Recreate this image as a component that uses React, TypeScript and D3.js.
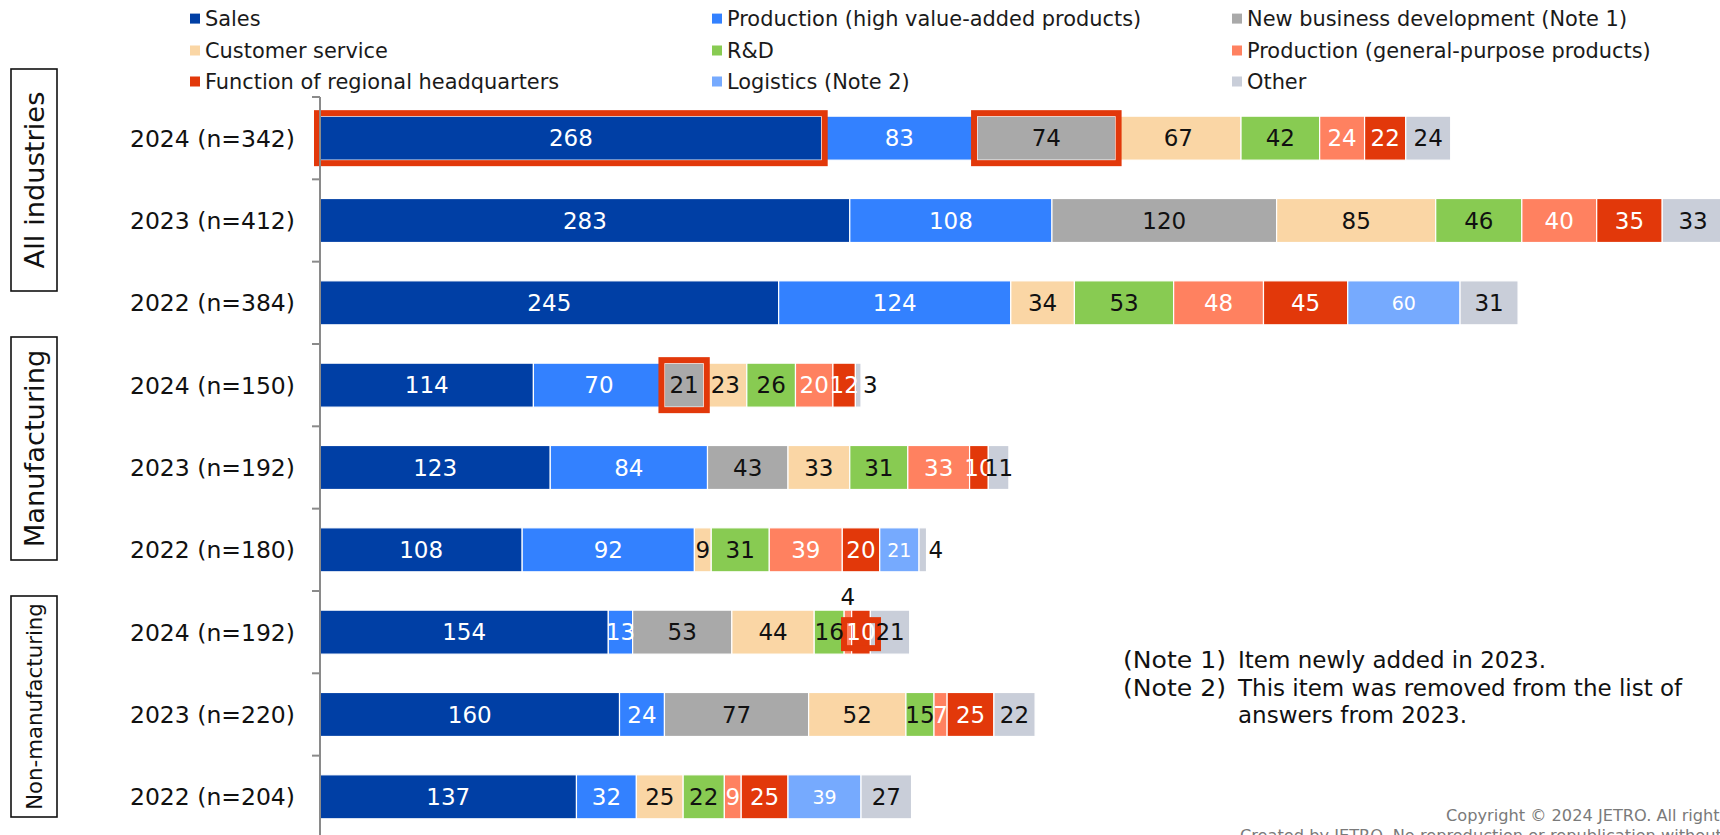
import React from 'react';
import * as d3 from 'd3';

// ---------- data ----------
const rowLabels = [
  '2024 (n=342)', '2023 (n=412)', '2022 (n=384)',
  '2024 (n=150)', '2023 (n=192)', '2022 (n=180)',
  '2024 (n=192)', '2023 (n=220)', '2022 (n=204)',
];
const groupLabels = ['All industries', 'Manufacturing', 'Non-manufacturing'];
const seriesNames = [
  'Sales',
  'Production (high value-added products)',
  'New business development (Note 1)',
  'Customer service',
  'R&D',
  'Production (general-purpose products)',
  'Function of regional headquarters',
  'Logistics (Note 2)',
  'Other',
];
const seriesColors = ['#003fa5', '#3381ff', '#a9a9a9', '#fad6a5', '#88cb52', '#ff8160', '#e2380a', '#76aafe', '#c9ced9'];
const labelColors = ['#ffffff', '#ffffff', '#111111', '#111111', '#111111', '#ffffff', '#ffffff', '#ffffff', '#111111'];

const sales = [268, 283, 245, 114, 123, 108, 154, 160, 137];
const prodHigh = [83, 108, 124, 70, 84, 92, 13, 24, 32];
const newBiz = [74, 120, 0, 21, 43, 0, 53, 77, 0];
const custService = [67, 85, 34, 23, 33, 9, 44, 52, 25];
const rnd = [42, 46, 53, 26, 31, 31, 16, 15, 22];
const prodGeneral = [24, 40, 48, 20, 33, 39, 4, 7, 9];
const regionalHQ = [22, 35, 45, 12, 10, 20, 10, 25, 25];
const logistics = [0, 0, 60, 0, 0, 21, 0, 0, 39];
const other = [24, 33, 31, 3, 11, 4, 21, 22, 27];

const seriesValues = [sales, prodHigh, newBiz, custService, rnd, prodGeneral, regionalHQ, logistics, other];

// highlighted cells: [row, series]
const highlights: [number, number][] = [[0, 0], [0, 2], [3, 2], [6, 6]];

const noteLabels = ['(Note 1)', '(Note 2)'];
const noteTexts = [['Item newly added in 2023.'], ['This item was removed from the list of', 'answers from 2023.']];
const copyrightLines = [
  'Copyright © 2024 JETRO. All rights reserved.',
  'Created by JETRO. No reproduction or republication without written permission.',
];

// ---------- layout ----------
const W = 1720;
const H = 835;
const FONT = "'DejaVu Sans', Verdana, sans-serif";
const axisX = 320;
const unitPx = 1.872;
const yTop = 97;
const step = 82.33;
const barH = 44;

const groupBoxes = [
  { y0: 69, y1: 291, size: 27.3 },
  { y0: 337, y1: 560, size: 27.3 },
  { y0: 596, y1: 817, size: 21.3 },
];

export default function App() {
  const keys = seriesNames.map((_, i) => `s${i}`);
  const table = rowLabels.map((r, ri) => {
    const o: any = { row: r };
    keys.forEach((k, si) => { o[k] = seriesValues[si][ri]; });
    return o;
  });
  const stacked = d3.stack().keys(keys)(table as any);

  const x = d3.scaleLinear().domain([0, 800]).range([axisX, axisX + 800 * unitPx]);
  const y = d3.scaleBand<string>().domain(rowLabels).range([yTop, yTop + step * rowLabels.length]).padding(0);
  const bw = y.bandwidth();
  const barY = (r: string) => (y(r) as number) + (bw - barH) / 2;

  const tickYs = d3.range(rowLabels.length + 1).map((i) => yTop + i * bw);

  const legendCols = [190, 712, 1232];
  const legendRows = [18.6, 50.5, 81.5];

  const valueFont = 23;

  return (
    <svg width={W} height={H} style={{ position: 'absolute', left: 0, top: 0, overflow: 'hidden', background: '#fff' }} fontFamily={FONT}>
      <rect x={0} y={0} width={W} height={H} fill="#fff" />
      {/* legend */}
      {seriesNames.map((name, i) => {
        const cx = legendCols[i % 3];
        const cy = legendRows[Math.floor(i / 3)];
        return (
          <g key={name}>
            <rect x={cx} y={cy - 5} width={10} height={10} fill={seriesColors[i]} />
            <text x={cx + 15} y={cy} dy="0.36em" fontSize={20.9} fill="#1a1a1a">{name}</text>
          </g>
        );
      })}

      {/* bars */}
      {stacked.map((s, si) => (
        <g key={s.key}>
          {s.map((d, ri) => {
            const v = d[1] - d[0];
            if (v <= 0) return null;
            const r = rowLabels[ri];
            return (
              <rect key={ri} x={x(d[0])} y={barY(r)} width={x(d[1]) - x(d[0])} height={barH}
                fill={seriesColors[si]} stroke="#ffffff" strokeWidth={1.2} />
            );
          })}
        </g>
      ))}

      {/* highlight boxes */}
      {highlights.map(([ri, si], i) => {
        const d = stacked[si][ri];
        const r = rowLabels[ri];
        const x0 = x(d[0]);
        const x1 = x(d[1]);
        const w = x1 - x0;
        const minW = 34;
        const pad = 3;
        if (w < minW) {
          const cx = (x0 + x1) / 2;
          return <rect key={i} x={cx - minW / 2} y={barY(r) + 10} width={minW} height={barH - 16}
            fill="none" stroke="#e2380a" strokeWidth={6} />;
        }
        return <rect key={i} x={x0 - pad} y={barY(r) - pad} width={w + pad * 2} height={barH + pad * 2}
          fill="none" stroke="#e2380a" strokeWidth={6} />;
      })}

      {/* value labels */}
      {stacked.map((s, si) => (
        <g key={`l${s.key}`}>
          {s.map((d, ri) => {
            const v = d[1] - d[0];
            if (v <= 0) return null;
            const r = rowLabels[ri];
            const x0 = x(d[0]);
            const x1 = x(d[1]);
            const w = x1 - x0;
            const cy = barY(r) + barH / 2;
            const fs = si === 7 ? 19 : valueFont;
            const isLast = si === seriesNames.length - 1;
            if (w < 10 && isLast) {
              return <text key={ri} x={x1 + 2} y={cy} dy="0.36em" fontSize={fs} fill="#111">{v}</text>;
            }
            if (w < 10) {
              return <text key={ri} x={(x0 + x1) / 2} y={barY(r) - 5} textAnchor="middle" fontSize={fs} fill="#111">{v}</text>;
            }
            return (
              <text key={ri} x={(x0 + x1) / 2} y={cy} dy="0.36em" textAnchor="middle" fontSize={fs}
                fill={labelColors[si]}>{v}</text>
            );
          })}
        </g>
      ))}

      {/* axis */}
      <line x1={axisX} x2={axisX} y1={yTop} y2={H + 5} stroke="#8a8a8a" strokeWidth={2} />
      {tickYs.map((ty, i) => (
        <line key={i} x1={axisX - 8} x2={axisX} y1={ty} y2={ty} stroke="#8a8a8a" strokeWidth={2} />
      ))}

      {/* row labels */}
      {rowLabels.map((r) => (
        <text key={r} x={295} y={(y(r) as number) + bw / 2} dy="0.36em" textAnchor="end" fontSize={23.5} fill="#111">{r}</text>
      ))}

      {/* group boxes */}
      {groupLabels.map((g, i) => {
        const b = groupBoxes[i];
        const cx = 34;
        const cy = (b.y0 + b.y1) / 2;
        return (
          <g key={g}>
            <rect x={11} y={b.y0} width={46} height={b.y1 - b.y0} fill="#fff" stroke="#111" strokeWidth={1.6} />
            <text transform={`translate(${cx},${cy}) rotate(-90)`} textAnchor="middle" dy="0.36em" fontSize={b.size} fill="#111">{g}</text>
          </g>
        );
      })}

      {/* notes */}
      {noteLabels.map((n, i) => (
        <text key={n} x={1123} y={660 + i * 27.4} dy="0.36em" fontSize={23} fill="#111" textLength={103} lengthAdjust="spacingAndGlyphs">{n}</text>
      ))}
      {noteTexts.map((lines, i) => lines.map((t, j) => (
        <text key={`${i}-${j}`} x={1238} y={660 + (i + j) * 27.4} dy="0.36em" fontSize={23} fill="#111">{t}</text>
      )))}

      {/* copyright */}
      {copyrightLines.map((t, i) => (
        <text key={i} x={i === 0 ? 1446 : 1240} y={821 + i * 20} fontSize={16.2} fill="#7a7a7a">{t}</text>
      ))}
    </svg>
  );
}
